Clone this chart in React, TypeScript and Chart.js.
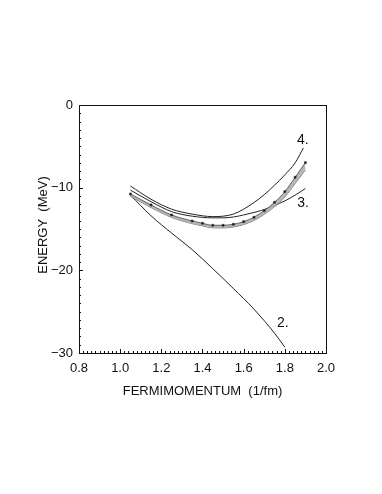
import React, { useEffect, useRef } from "react";
import { Chart, registerables } from "chart.js";

Chart.register(...registerables);

// Fermi momentum grid for the shaded band with markers
const bandK = [1.05, 1.15, 1.25, 1.35, 1.4, 1.45, 1.5, 1.55, 1.6, 1.65, 1.7, 1.75, 1.8, 1.85, 1.9];
const bandMid = [-10.76, -12.09, -13.3, -14.03, -14.31, -14.55, -14.55, -14.43, -14.11, -13.58, -12.78, -11.77, -10.48, -8.74, -6.97];
const bandLow = [-11.05, -12.4, -13.6, -14.35, -14.62, -14.86, -14.87, -14.76, -14.46, -13.97, -13.22, -12.3, -11.12, -9.5, -7.86];

// Curve 2.
const curve2K = [1.05, 1.15, 1.25, 1.35, 1.45, 1.55, 1.65, 1.75, 1.8];
const curve2E = [-10.9, -13.4, -15.5, -17.5, -19.8, -22.2, -24.7, -27.6, -29.3];

// Curve 3.
const curve3K = [1.05, 1.15, 1.25, 1.35, 1.45, 1.5, 1.55, 1.6, 1.65, 1.7, 1.75, 1.8, 1.85, 1.9];
const curve3E = [-10.3, -11.7, -12.9, -13.45, -13.65, -13.65, -13.55, -13.3, -13.0, -12.65, -12.15, -11.6, -10.9, -10.1];

// Curve 4.
const curve4K = [1.05, 1.15, 1.25, 1.35, 1.45, 1.5, 1.55, 1.6, 1.65, 1.7, 1.75, 1.8, 1.85, 1.89];
const curve4E = [-9.8, -11.4, -12.6, -13.2, -13.5, -13.45, -13.2, -12.6, -11.8, -10.85, -9.7, -8.45, -7.0, -5.2];

// Curve labels (text and the value coordinates where they sit)
const curveLabels = ["2.", "3.", "4."];
const curveLabelK = [1.762, 1.86, 1.859];
const curveLabelE = [-26.9, -12.3, -4.75];

// Axis ticks and titles
const xTickValues = [0.8, 1.0, 1.2, 1.4, 1.6, 1.8, 2.0];
const yTickLabels = ["0", "\u221210", "\u221220", "\u221230"];
const xTitle = "FERMIMOMENTUM  (1/fm)";
const yTitle = "ENERGY  (MeV)";

const FONT = "'Liberation Sans', Arial, sans-serif";

const pts = (ks: number[], es: number[]) => ks.map((k, i) => ({ x: k, y: es[i] }));

const framePlugin = {
  id: "frame",
  afterDraw(chart: any) {
    const { ctx, chartArea: a, scales } = chart;
    const xs = scales.x;
    const ys = scales.y;
    ctx.save();
    ctx.strokeStyle = "#111";
    ctx.lineWidth = 1;
    ctx.strokeRect(Math.round(a.left) + 0.5, Math.round(a.top) + 0.5, Math.round(a.right - a.left), Math.round(a.bottom - a.top));
    // inward ticks
    ctx.beginPath();
    for (let i = 0; i <= 60; i++) {
      const v = 0.8 + i * 0.02;
      const px = Math.round(xs.getPixelForValue(v)) + 0.5;
      const len = i % 10 === 0 ? 4 : 2;
      ctx.moveTo(px, a.bottom);
      ctx.lineTo(px, a.bottom - len);
    }
    for (let i = 0; i <= 30; i++) {
      const py = Math.round(ys.getPixelForValue(-i)) + 0.5;
      const len = i % 10 === 0 ? 4 : 2;
      ctx.moveTo(a.left, py);
      ctx.lineTo(a.left + len, py);
    }
    ctx.stroke();

    // curve labels
    ctx.fillStyle = "#111";
    ctx.font = `14px ${FONT}`;
    ctx.textAlign = "left";
    ctx.textBaseline = "alphabetic";
    curveLabels.forEach((t, i) => {
      ctx.fillText(t, xs.getPixelForValue(curveLabelK[i]), ys.getPixelForValue(curveLabelE[i]));
    });

    // axis titles
    ctx.font = `13px ${FONT}`;
    ctx.textAlign = "center";
    ctx.textBaseline = "middle";
    ctx.fillText(xTitle, (a.left + a.right) / 2, a.bottom + 38);
    ctx.translate(a.left - 36, (a.top + a.bottom) / 2 - 4);
    ctx.rotate(-Math.PI / 2);
    ctx.fillText(yTitle, 0, 0);
    ctx.restore();
  },
};

const bgPlugin = {
  id: "bg",
  beforeDraw(chart: any) {
    const { ctx, width, height } = chart;
    ctx.save();
    ctx.fillStyle = "#fff";
    ctx.fillRect(0, 0, width, height);
    ctx.restore();
  },
};

export default function App() {
  const ref = useRef<HTMLCanvasElement | null>(null);
  useEffect(() => {
    if (!ref.current) return;
    const lineStyle = {
      borderColor: "#222",
      borderWidth: 1,
      pointRadius: 0,
      cubicInterpolationMode: "monotone",
      fill: false,
      showLine: true,
    };
    const chart = new Chart(ref.current, {
      type: "scatter",
      data: {
        datasets: [
          {
            label: "band",
            data: pts(bandK, bandMid),
            showLine: true,
            borderColor: "#444",
            borderWidth: 0.8,
            cubicInterpolationMode: "monotone",
            backgroundColor: "rgba(175,175,175,0.9)",
            fill: "+1",
            pointStyle: "rect",
            pointRadius: 1.4,
            pointBackgroundColor: "#222",
            pointBorderColor: "#222",
            pointBorderWidth: 0.5,
          } as any,
          {
            label: "band low",
            data: pts(bandK, bandLow),
            showLine: true,
            borderColor: "#555",
            borderWidth: 0.8,
            cubicInterpolationMode: "monotone",
            pointRadius: 0,
            fill: false,
          } as any,
          { label: "2", data: pts(curve2K, curve2E), ...lineStyle } as any,
          { label: "3", data: pts(curve3K, curve3E), ...lineStyle } as any,
          { label: "4", data: pts(curve4K, curve4E), ...lineStyle } as any,
        ],
      },
      options: {
        animation: false,
        responsive: false,
        layout: { padding: { top: 105, right: 56, bottom: 0, left: 0 } },
        plugins: { legend: { display: false }, tooltip: { enabled: false } },
        scales: {
          x: {
            type: "linear",
            min: 0.8,
            max: 2.0,
            afterBuildTicks: (s: any) => {
              s.ticks = xTickValues.map((v) => ({ value: v }));
            },
            afterFit: (s: any) => {
              s.height = 141;
            },
            grid: { display: false, drawTicks: false },
            border: { display: false },
            ticks: {
              padding: 8,
              color: "#111",
              font: { family: FONT, size: 13 },
              callback: (v: any) => Number(v).toFixed(1),
            },
          },
          y: {
            type: "linear",
            min: -30,
            max: 0,
            afterBuildTicks: (s: any) => {
              s.ticks = [0, -10, -20, -30].map((v) => ({ value: v }));
            },
            afterFit: (s: any) => {
              s.width = 79;
            },
            grid: { display: false, drawTicks: false },
            border: { display: false },
            ticks: {
              padding: 6,
              color: "#111",
              font: { family: FONT, size: 13 },
              callback: (v: any) => yTickLabels[Math.round(-Number(v) / 10)],
            },
          },
        },
      } as any,
      plugins: [bgPlugin, framePlugin],
    });
    return () => chart.destroy();
  }, []);
  return (
    <div style={{ position: "absolute", left: 0, top: 0, width: 382, height: 494 }}>
      <canvas ref={ref} width={382} height={494} style={{ display: "block" }} />
    </div>
  );
}
